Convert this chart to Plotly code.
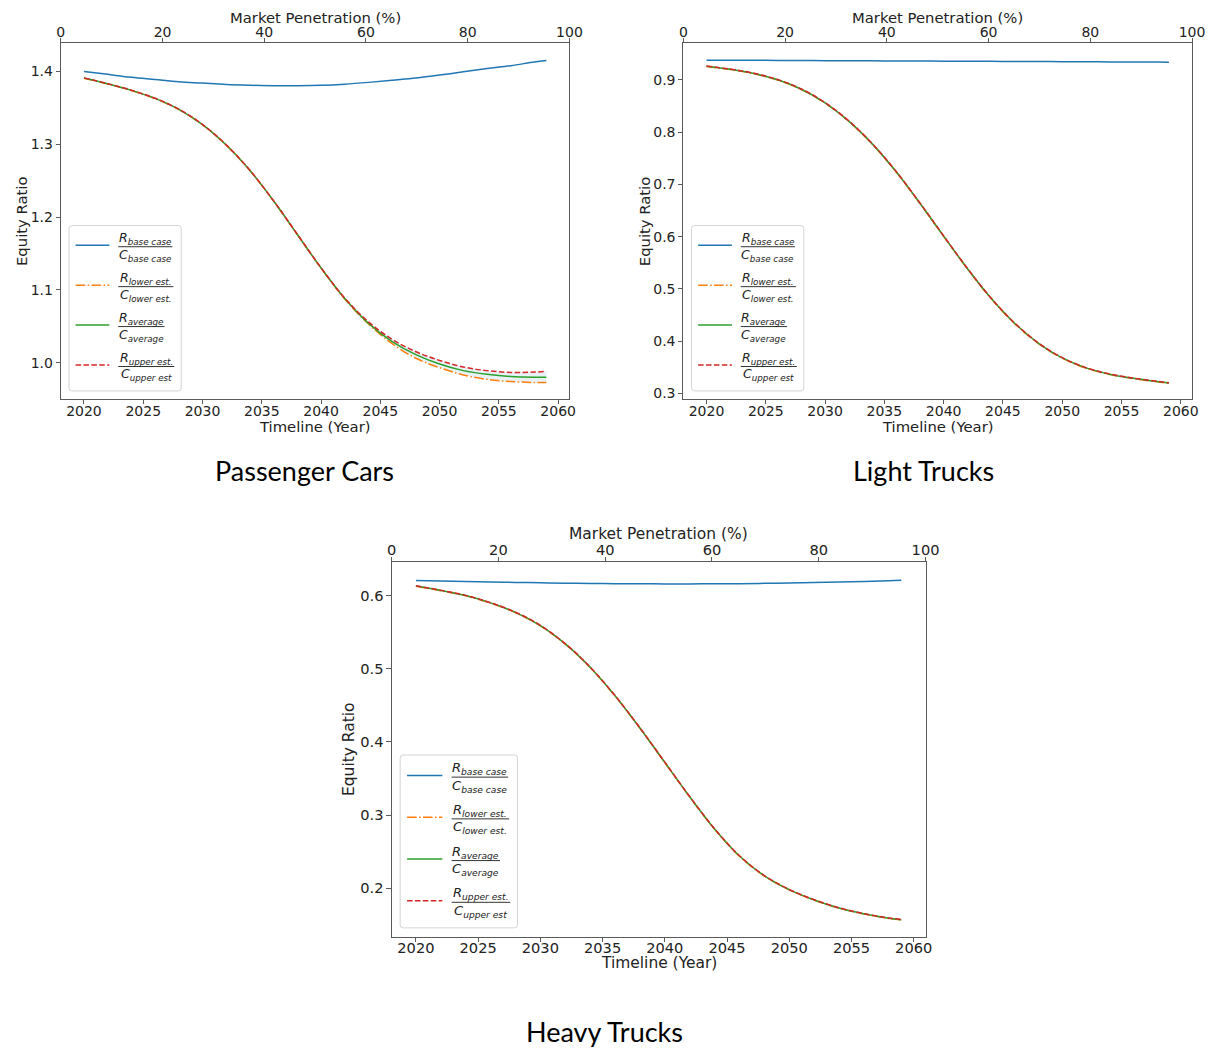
import plotly.graph_objects as go

W, H = 1229, 1049

# ---------------- data ----------------
years = [2020, 2022, 2024, 2026, 2028, 2030, 2032, 2034, 2036, 2038, 2040,
         2042, 2044, 2046, 2048, 2050, 2052, 2054, 2056, 2058, 2059]

pc_base = [1.400, 1.396, 1.392, 1.389, 1.386, 1.384, 1.382, 1.381, 1.3805, 1.3805, 1.381,
           1.3825, 1.385, 1.388, 1.391, 1.395, 1.3995, 1.404, 1.408, 1.413, 1.415]
pc_lower = [1.3908, 1.3828, 1.3738, 1.3628, 1.3478, 1.3268, 1.2988, 1.2638, 1.2218, 1.1758, 1.1297,
            1.0875, 1.0530, 1.0260, 1.0060, 0.9930, 0.9830, 0.9770, 0.9740, 0.9727, 0.9728]
pc_average = [1.391, 1.383, 1.374, 1.363, 1.348, 1.327, 1.299, 1.264, 1.222, 1.176, 1.130,
              1.088, 1.054, 1.029, 1.011, 0.998, 0.989, 0.984, 0.981, 0.980, 0.980]
pc_upper = [1.3912, 1.3832, 1.3742, 1.3632, 1.3482, 1.3272, 1.2992, 1.2642, 1.2222, 1.1763, 1.1303,
            1.0885, 1.0560, 1.0320, 1.0150, 1.0030, 0.9940, 0.9890, 0.9865, 0.9870, 0.9880]

lt_base = [0.9376, 0.9375, 0.9373, 0.9371, 0.9369, 0.9367, 0.9365, 0.9363, 0.9361, 0.9359, 0.9357,
           0.9355, 0.9353, 0.9351, 0.9349, 0.9347, 0.9345, 0.9343, 0.9341, 0.9339, 0.9338]
lt_lower = [0.9255, 0.9195, 0.9115, 0.8995, 0.8815, 0.8555, 0.8205, 0.7765, 0.7235, 0.6635, 0.6005,
            0.5385, 0.4815, 0.4335, 0.3955, 0.3675, 0.3485, 0.3365, 0.3285, 0.3225, 0.3195]
lt_average = [0.926, 0.920, 0.912, 0.900, 0.882, 0.856, 0.821, 0.777, 0.724, 0.664, 0.601,
              0.539, 0.482, 0.434, 0.396, 0.368, 0.349, 0.337, 0.329, 0.323, 0.320]
lt_upper = [0.9265, 0.9205, 0.9125, 0.9005, 0.8825, 0.8565, 0.8215, 0.7775, 0.7245, 0.6645, 0.6015,
            0.5395, 0.4825, 0.4345, 0.3965, 0.3685, 0.3495, 0.3375, 0.3295, 0.3235, 0.3205]

ht_base = [0.6205, 0.6198, 0.6192, 0.6186, 0.6180, 0.6175, 0.6170, 0.6166, 0.6163, 0.6161, 0.6160,
           0.6160, 0.6161, 0.6163, 0.6167, 0.6172, 0.6178, 0.6185, 0.6193, 0.6203, 0.6210]
ht_lower = [0.6127, 0.6067, 0.5997, 0.5897, 0.5767, 0.5587, 0.5337, 0.5017, 0.4627, 0.4187, 0.3717,
            0.3247, 0.2807, 0.2437, 0.2167, 0.1977, 0.1837, 0.1727, 0.1647, 0.1587, 0.1567]
ht_average = [0.613, 0.607, 0.600, 0.590, 0.577, 0.559, 0.534, 0.502, 0.463, 0.419, 0.372,
              0.325, 0.281, 0.244, 0.217, 0.198, 0.184, 0.173, 0.165, 0.159, 0.157]
ht_upper = [0.6133, 0.6073, 0.6003, 0.5903, 0.5773, 0.5593, 0.5343, 0.5023, 0.4633, 0.4193, 0.3723,
            0.3253, 0.2813, 0.2443, 0.2173, 0.1983, 0.1843, 0.1733, 0.1653, 0.1593, 0.1573]

year_ticks = [2020, 2025, 2030, 2035, 2040, 2045, 2050, 2055, 2060]
penetration_ticks = [0, 20, 40, 60, 80, 100]

pc_yticks = [1.0, 1.1, 1.2, 1.3, 1.4]
lt_yticks = [0.3, 0.4, 0.5, 0.6, 0.7, 0.8, 0.9]
ht_yticks = [0.2, 0.3, 0.4, 0.5, 0.6]

captions = ["Passenger Cars", "Light Trucks", "Heavy Trucks"]
x_title_bottom = "Timeline (Year)"
x_title_top = "Market Penetration (%)"
y_title = "Equity Ratio"

legend_num = ["<i>R</i><sub><i>base case</i></sub>", "<i>R</i><sub><i>lower est.</i></sub>",
              "<i>R</i><sub><i>average</i></sub>", "<i>R</i><sub><i>upper est.</i></sub>"]
legend_den = ["<i>C</i><sub><i>base case</i></sub>", "<i>C</i><sub><i>lower est.</i></sub>",
              "<i>C</i><sub><i>average</i></sub>", "<i>C</i><sub><i>upper est</i></sub>"]

# ---------------- styles ----------------
C0, C1, C2, C3 = "#1f77b4", "#ff7f0e", "#2ca02c", "#d62728"
DASHDOT = "9.6px,2.4px,1.5px,2.4px"
DASHED = "5.5px,2.4px"
FONT = "DejaVu Sans"
SPINE = "#5a5a5a"
TXT = "#222222"

panels = [
    dict(l=56.7, r=573.3, t=43.3, b=400.0, yr=[0.9497, 1.4388], yt=pc_yticks,
         data=(pc_base, pc_lower, pc_average, pc_upper), cap=(304, 471), s=1.0,
         ttop=17.5, tbot=427.5, yx=16.0, xso=-5),
    dict(l=689.0, r=1205.7, t=43.3, b=400.0, yr=[0.289, 0.970], yt=lt_yticks,
         data=(lt_base, lt_lower, lt_average, lt_upper), cap=(933, 471), s=1.0,
         ttop=17.5, tbot=427.5, yx=649.0, xso=-5),
    dict(l=392.7, r=935.0, t=563.3, b=938.3, yr=[0.134, 0.6456], yt=ht_yticks,
         data=(ht_base, ht_lower, ht_average, ht_upper), cap=(609, 1033), s=1.045,
         ttop=535.5, tbot=965.0, yx=350.0, xso=-6),
]


def PX(x):
    return x / W


def PY(y):
    return 1 - y / H


fig = go.Figure()
layout = dict(width=W, height=H, margin=dict(l=0, r=0, t=0, b=0),
              paper_bgcolor="white", plot_bgcolor="white", showlegend=False,
              font=dict(family=FONT, color=TXT))
shapes = []
annotations = []

for i, p in enumerate(panels):
    k = i + 1
    xa, ya, xt = f"x{k}" if k > 1 else "x", f"y{k}" if k > 1 else "y", f"x{k + 3}"
    base, lower, avg, upper = p["data"]
    s = p["s"]
    tick_font = dict(family=FONT, size=14.0 * s, color=TXT)

    # uncertainty band between lower and upper estimates
    fig.add_trace(go.Scatter(x=years, y=upper, xaxis=xa, yaxis=ya, mode="lines",
                             line=dict(width=0, shape="spline"), hoverinfo="skip"))
    fig.add_trace(go.Scatter(x=years, y=lower, xaxis=xa, yaxis=ya, mode="lines",
                             line=dict(width=0, shape="spline"), fill="tonexty",
                             fillcolor="rgba(31,119,180,0.10)", hoverinfo="skip"))
    fig.add_trace(go.Scatter(x=years, y=base, xaxis=xa, yaxis=ya, mode="lines",
                             line=dict(color=C0, width=1.5, shape="spline")))
    fig.add_trace(go.Scatter(x=years, y=lower, xaxis=xa, yaxis=ya, mode="lines",
                             line=dict(color=C1, width=1.5, dash=DASHDOT, shape="spline")))
    fig.add_trace(go.Scatter(x=years, y=avg, xaxis=xa, yaxis=ya, mode="lines",
                             line=dict(color=C2, width=1.5, shape="spline")))
    fig.add_trace(go.Scatter(x=years, y=upper, xaxis=xa, yaxis=ya, mode="lines",
                             line=dict(color=C3, width=1.5, dash=DASHED, shape="spline")))
    # anchor trace for the secondary (top) axis
    fig.add_trace(go.Scatter(x=[penetration_ticks[0], penetration_ticks[-1]], y=[None, None],
                             xaxis=xt, yaxis=ya, mode="lines", hoverinfo="skip"))

    dom_x = [PX(p["l"]), PX(p["r"])]
    dom_y = [PY(p["b"]), PY(p["t"])]
    axis_common = dict(showline=True, linecolor=SPINE, linewidth=1.1, ticks="outside",
                       ticklen=4 * s, tickwidth=1, tickcolor=SPINE, showgrid=False,
                       zeroline=False, tickfont=tick_font)
    layout["xaxis" + ("" if k == 1 else str(k))] = dict(
        domain=dom_x, anchor=ya, range=[2018.05, 2060.95], tickvals=year_ticks,
        mirror=True, ticklabelstandoff=p["xso"], **axis_common)
    layout["yaxis" + ("" if k == 1 else str(k))] = dict(
        domain=dom_y, anchor=xa, range=p["yr"], tickvals=p["yt"], tickformat=".1f",
        mirror=True, ticklabelstandoff=0, **axis_common)
    layout[f"xaxis{k + 3}"] = dict(
        overlaying=xa, anchor=ya, side="top", range=[0, 100], tickvals=penetration_ticks,
        ticklabelstandoff=-4, **axis_common)

    cx = (p["l"] + p["r"]) / 2
    cy = (p["t"] + p["b"]) / 2
    title_font = dict(family=FONT, size=14.8 * (1 if s == 1 else 1.045), color=TXT)
    annotations += [
        dict(x=PX(cx), y=PY(p["ttop"]), xref="paper", yref="paper", text=x_title_top,
             showarrow=False, xanchor="center", yanchor="middle", font=title_font),
        dict(x=PX(cx), y=PY(p["tbot"]), xref="paper", yref="paper", text=x_title_bottom,
             showarrow=False, xanchor="center", yanchor="middle", font=title_font),
        dict(x=PX(p["yx"]), y=PY(cy), xref="paper", yref="paper", text=y_title,
             showarrow=False, xanchor="center", yanchor="middle", textangle=-90, font=title_font),
        dict(x=PX(p["cap"][0]), y=PY(p["cap"][1]), xref="paper", yref="paper", text=captions[i],
             showarrow=False, xanchor="center", yanchor="middle",
             font=dict(family="Lato", size=27, color="#000000")),
    ]

    # ---- legend box (drawn by hand so the fractions can be shown) ----
    bl = p["l"] + 8.3 * s
    bb = p["b"] - 8.3 * s
    bw = 114 * s
    bh = 165.7 * s
    bt = bb - bh
    br = bl + bw
    rr = 3.0
    path = (f"M {PX(bl + rr)} {PY(bt)} L {PX(br - rr)} {PY(bt)} Q {PX(br)} {PY(bt)} {PX(br)} {PY(bt + rr)} "
            f"L {PX(br)} {PY(bb - rr)} Q {PX(br)} {PY(bb)} {PX(br - rr)} {PY(bb)} "
            f"L {PX(bl + rr)} {PY(bb)} Q {PX(bl)} {PY(bb)} {PX(bl)} {PY(bb - rr)} "
            f"L {PX(bl)} {PY(bt + rr)} Q {PX(bl)} {PY(bt)} {PX(bl + rr)} {PY(bt)} Z")
    shapes.append(dict(type="path", xref="paper", yref="paper", path=path,
                       line=dict(color="#d4d4d4", width=1), fillcolor="rgba(255,255,255,0.8)",
                       layer="above"))
    styles = [(C0, "solid"), (C1, DASHDOT), (C2, "solid"), (C3, DASHED)]
    bar_w = [55, 56, 47, 57]
    for j in range(4):
        ly = bt + (19.7 + 40.0 * j) * s
        shapes.append(dict(type="line", xref="paper", yref="paper",
                           x0=PX(bl + 6.7 * s), x1=PX(bl + 41 * s), y0=PY(ly), y1=PY(ly),
                           line=dict(color=styles[j][0], width=1.5, dash=styles[j][1]),
                           layer="above"))
        by = ly + 1.5 * s
        x0b = bl + 50 * s
        x1b = bl + (50 + bar_w[j]) * s
        shapes.append(dict(type="line", xref="paper", yref="paper",
                           x0=PX(x0b), x1=PX(x1b), y0=PY(by), y1=PY(by),
                           line=dict(color="#333333", width=1), layer="above"))
        lf = dict(family=FONT, size=12.5 * s, color=TXT)
        annotations += [
            dict(x=PX((x0b + x1b) / 2), y=PY(by - 8.0 * s), xref="paper", yref="paper",
                 text=legend_num[j], showarrow=False, xanchor="center", yanchor="middle", font=lf),
            dict(x=PX((x0b + x1b) / 2), y=PY(by + 8.5 * s), xref="paper", yref="paper",
                 text=legend_den[j], showarrow=False, xanchor="center", yanchor="middle", font=lf),
        ]

layout["shapes"] = shapes
layout["annotations"] = annotations
fig.update_layout(**layout)

fig.write_html("out.html", config={"displayModeBar": False},
               post_script="document.body.style.margin='0px';")
